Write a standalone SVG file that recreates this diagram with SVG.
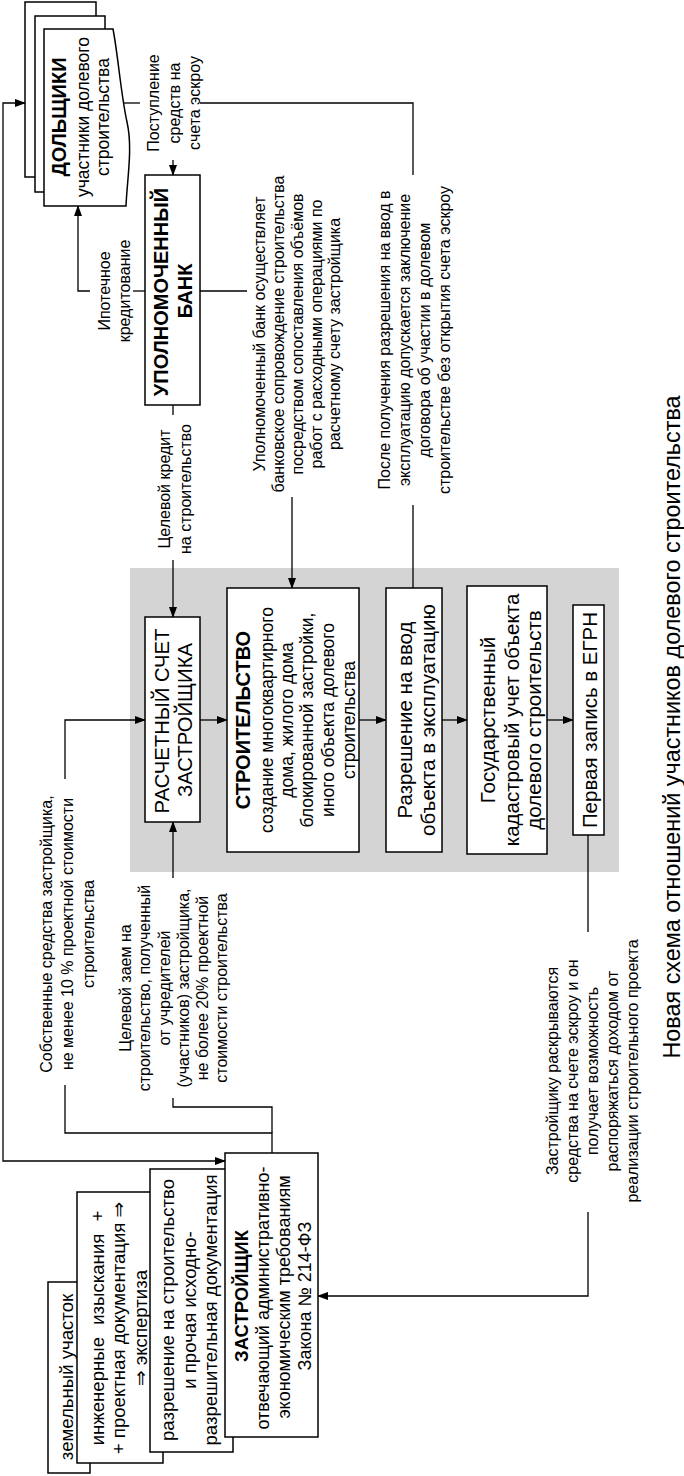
<svg xmlns="http://www.w3.org/2000/svg" width="684" height="1476" viewBox="0 0 684 1476">
<style>
text{font-family:"Liberation Sans","DejaVu Sans",Arial,sans-serif;text-anchor:middle;dominant-baseline:central;fill:#000}
.lb{font-size:16px}
.nd{font-size:17.5px}
.big{font-size:20.5px}
.bd{font-weight:bold;font-size:20px}
.lf{font-size:18.6px}
.z{font-size:18px}
.ttl{font-size:23.4px}
.box{fill:#fff;stroke:#000;stroke-width:1.5}
.c{fill:none;stroke:#000;stroke-width:1.3}
.ar{marker-end:url(#ah)}
</style>
<defs>
<marker id="ah" markerWidth="11" markerHeight="8" refX="10" refY="4" orient="auto-start-reverse" markerUnits="userSpaceOnUse">
<path d="M0,0 L11,4 L0,8 z" fill="#000"/>
</marker>
</defs>
<rect id="grey-zone" x="130" y="568" width="489" height="304" fill="#d4d4d4"/>
<g id="connectors">
<path class="c" d="M225,1161 H3 V103 H25" marker-start="url(#ah)" marker-end="url(#ah)"/>
<path class="c" d="M123,103 H140"/>
<path class="c" d="M200,103 H413 V175"/>
<path class="c ar" d="M173,160 V175"/>
<path class="c" d="M145,291 H133"/>
<path class="c ar" d="M90,291 H78 V206"/>
<path class="c" d="M173,405 V415"/>
<path class="c ar" d="M173,560 V617"/>
<path class="c" d="M200,291 H247"/>
<path class="c ar" d="M292,497 V588"/>
<path class="c" d="M413,505 V588"/>
<path class="c ar" d="M200,720 H227"/>
<path class="c ar" d="M359,720 H386"/>
<path class="c ar" d="M442,720 H467"/>
<path class="c ar" d="M547,720 H573"/>
<path class="c" d="M272,1153 V1133 H65 V1085"/>
<path class="c ar" d="M65,779 V720 H145"/>
<path class="c" d="M272,1133 V1107 H173 V1098"/>
<path class="c ar" d="M173,878 V822"/>
<path class="c" d="M588,835 V932"/>
<path class="c ar" d="M588,1212 V1296 H318"/>
</g>
<g id="dolshchiki">
<rect class="box" x="25" y="2" width="71" height="175"/>
<rect class="box" x="35" y="16" width="70" height="176"/>
<path class="box" d="M44,29 L113,29 C118,55 121,95 127,122 C133,148 127,180 126,206 L44,206 Z"/>
<text class="bd" transform="translate(59 117) rotate(-90)">ДОЛЬЩИКИ</text>
<text class="nd" transform="translate(83 117) rotate(-90)">участники долевого</text>
<text class="nd" transform="translate(103 117) rotate(-90)">строительства</text>
</g>
<g id="bank">
<rect class="box" x="145" y="175" width="55" height="230"/>
<text class="bd" transform="translate(161 292) rotate(-90)">УПОЛНОМОЧЕННЫЙ</text>
<text class="bd" transform="translate(185 291) rotate(-90)">БАНК</text>
</g>
<g id="raschetny-schet">
<rect class="box" x="145" y="617" width="55" height="205"/>
<text class="big" style="font-size:20.3px" transform="translate(162 721) rotate(-90)">РАСЧЕТНЫЙ СЧЕТ</text>
<text class="big" style="font-size:20.3px" transform="translate(185 720) rotate(-90)">ЗАСТРОЙЩИКА</text>
</g>
<g id="stroitelstvo">
<rect class="box" x="227" y="588" width="132" height="264"/>
<text class="bd" transform="translate(243 720) rotate(-90)">СТРОИТЕЛЬСТВО</text>
<text class="nd" transform="translate(267 720) rotate(-90)">создание многоквартирного</text>
<text class="nd" transform="translate(287 720) rotate(-90)">дома, жилого дома</text>
<text class="nd" transform="translate(307 720) rotate(-90)">блокированной застройки,</text>
<text class="nd" transform="translate(328 720) rotate(-90)">иного объекта долевого</text>
<text class="nd" transform="translate(349 720) rotate(-90)">строительства</text>
</g>
<g id="razreshenie-vvod">
<rect class="box" x="386" y="588" width="56" height="264"/>
<text class="big" transform="translate(404 720) rotate(-90)">Разрешение на ввод</text>
<text class="big" transform="translate(427 720) rotate(-90)">объекта в эксплуатацию</text>
</g>
<g id="kadastr">
<rect class="box" x="467" y="586" width="80" height="268"/>
<text class="big" transform="translate(487 720) rotate(-90)">Государственный</text>
<text class="big" transform="translate(511 720) rotate(-90)">кадастровый учет объекта</text>
<text class="big" transform="translate(533 720) rotate(-90)">долевого строительств</text>
</g>
<g id="pervaya-zapis">
<rect class="box" x="573" y="605" width="31" height="230"/>
<text class="big" transform="translate(589 720) rotate(-90)">Первая запись в ЕГРН</text>
</g>
<g id="zemelny">
<rect class="box" x="48" y="1282" width="42" height="191"/>
<text class="lf" transform="translate(66 1377) rotate(-90)">земельный участок</text>
</g>
<g id="izyskaniya">
<rect class="box" x="77" y="1192" width="86" height="271"/>
<text class="lf" style="word-spacing:7px" transform="translate(97 1328) rotate(-90)">инженерные изыскания +</text>
<text class="lf" transform="translate(118 1328) rotate(-90)">+ проектная документация ⇒</text>
<text class="lf" transform="translate(140 1328) rotate(-90)">⇒ экспертиза</text>
</g>
<g id="razreshenie-stroit">
<rect class="box" x="150" y="1169" width="83" height="283"/>
<text class="lf" transform="translate(167 1310) rotate(-90)">разрешение на строительство</text>
<text class="lf" transform="translate(189 1310) rotate(-90)">и прочая исходно-</text>
<text class="lf" transform="translate(210 1310) rotate(-90)">разрешительная документация</text>
</g>
<g id="zastroyshchik">
<rect class="box" x="225" y="1153" width="93" height="284"/>
<text class="bd" style="font-size:18.5px" transform="translate(241 1296) rotate(-90)">ЗАСТРОЙЩИК</text>
<text class="z" transform="translate(263 1298) rotate(-90)">отвечающий административно-</text>
<text class="z" transform="translate(284 1297) rotate(-90)">экономическим требованиям</text>
<text class="z" transform="translate(305 1296) rotate(-90)">Закона № 214-ФЗ</text>
</g>
<g id="labels">
<text class="lb" transform="translate(153 103) rotate(-90)"><tspan x="0" dy="0">Поступление</tspan><tspan x="0" dy="20.5">средств на</tspan><tspan x="0" dy="20.5">счета эскроу</tspan></text>
<text class="lb" transform="translate(104 291) rotate(-90)"><tspan x="0" dy="0">Ипотечное</tspan><tspan x="0" dy="20">кредитование</tspan></text>
<text class="lb" transform="translate(164 489) rotate(-90)"><tspan x="0" dy="0">Целевой кредит</tspan><tspan x="0" dy="21">на строительство</tspan></text>
<text class="lb" transform="translate(259 334) rotate(-90)"><tspan x="0" dy="0">Уполномоченный банк осуществляет</tspan><tspan x="0" dy="19">банковское сопровождение строительства</tspan><tspan x="0" dy="19">посредством сопоставления объёмов</tspan><tspan x="0" dy="18.5">работ с расходными операциями по</tspan><tspan x="0" dy="18.5">расчетному счету застройщика</tspan></text>
<text class="lb" transform="translate(384 340) rotate(-90)"><tspan x="0" dy="0">После получения разрешения на ввод в</tspan><tspan x="0" dy="20">эксплуатацию допускается заключение</tspan><tspan x="0" dy="20">договора об участии в долевом</tspan><tspan x="0" dy="19.5">строительстве без открытия счета эскроу</tspan></text>
<text class="lb" transform="translate(46 934) rotate(-90)"><tspan x="0" dy="0">Собственные средства застройщика,</tspan><tspan x="0" dy="21">не менее 10 % проектной стоимости</tspan><tspan x="0" dy="21">строительства</tspan></text>
<text class="lb" transform="translate(125 988) rotate(-90)"><tspan x="0" dy="0">Целевой заем на</tspan><tspan x="0" dy="19">строительство, полученный</tspan><tspan x="0" dy="20">от учредителей</tspan><tspan x="0" dy="19">(участников) застройщика,</tspan><tspan x="0" dy="19">не более 20% проектной</tspan><tspan x="0" dy="19">стоимости строительства</tspan></text>
<text class="lb" transform="translate(552 1071) rotate(-90)"><tspan x="0" dy="0">Застройщику раскрываются</tspan><tspan x="0" dy="20">средства на счете эскроу и он</tspan><tspan x="0" dy="20">получает возможность</tspan><tspan x="0" dy="20">распоряжаться доходом от</tspan><tspan x="0" dy="19.5">реализации строительного проекта</tspan></text>
</g>
<text id="title" class="ttl" transform="translate(672 727) rotate(-90)">Новая схема отношений участников долевого строительства</text>
</svg>
